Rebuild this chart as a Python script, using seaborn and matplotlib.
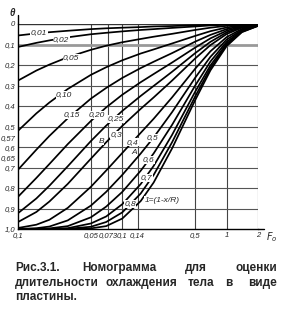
import matplotlib
matplotlib.use("Agg")
import matplotlib.pyplot as plt
from matplotlib.lines import Line2D
import pandas as pd
import seaborn as sns

# ---- data ----
fo = [0.01, 0.015, 0.02, 0.03, 0.05, 0.07, 0.1, 0.15, 0.2, 0.3, 0.5, 0.7, 1.0, 1.4, 2.0]
params = ["0,01", "0,02", "0,05", "0,10", "0,15", "0,20", "0,25", "0,3", "0,4", "0,5", "0,6", "0,7", "0,8", "1"]
theta_001 = [0.056, 0.046, 0.040, 0.033, 0.025, 0.021, 0.018, 0.015, 0.012, 0.010, 0.006, 0.004, 0.002, 0.001, 0.000]
theta_002 = [0.112, 0.092, 0.080, 0.065, 0.050, 0.043, 0.036, 0.029, 0.025, 0.019, 0.012, 0.007, 0.003, 0.001, 0.000]
theta_005 = [0.276, 0.227, 0.198, 0.162, 0.126, 0.106, 0.089, 0.073, 0.062, 0.048, 0.029, 0.018, 0.009, 0.003, 0.001]
theta_010 = [0.521, 0.436, 0.383, 0.317, 0.248, 0.211, 0.177, 0.144, 0.124, 0.095, 0.058, 0.035, 0.017, 0.006, 0.001]
theta_015 = [0.711, 0.613, 0.546, 0.460, 0.364, 0.312, 0.263, 0.215, 0.184, 0.142, 0.086, 0.053, 0.025, 0.009, 0.002]
theta_020 = [0.843, 0.751, 0.683, 0.586, 0.473, 0.407, 0.345, 0.284, 0.244, 0.188, 0.115, 0.070, 0.033, 0.012, 0.003]
theta_025 = [0.923, 0.851, 0.789, 0.694, 0.571, 0.496, 0.424, 0.351, 0.302, 0.233, 0.142, 0.087, 0.041, 0.015, 0.004]
theta_030 = [0.966, 0.917, 0.866, 0.780, 0.657, 0.577, 0.497, 0.414, 0.358, 0.276, 0.168, 0.103, 0.049, 0.018, 0.004]
theta_040 = [0.995, 0.979, 0.955, 0.897, 0.794, 0.715, 0.629, 0.531, 0.462, 0.358, 0.218, 0.133, 0.064, 0.024, 0.005]
theta_050 = [1.000, 0.996, 0.988, 0.958, 0.886, 0.819, 0.736, 0.632, 0.553, 0.430, 0.262, 0.160, 0.076, 0.029, 0.007]
theta_060 = [1.000, 1.000, 0.997, 0.986, 0.943, 0.891, 0.819, 0.716, 0.631, 0.492, 0.300, 0.183, 0.087, 0.033, 0.007]
theta_070 = [1.000, 1.000, 1.000, 0.996, 0.973, 0.939, 0.879, 0.781, 0.692, 0.541, 0.330, 0.202, 0.096, 0.036, 0.008]
theta_080 = [1.000, 1.000, 1.000, 0.999, 0.989, 0.966, 0.919, 0.827, 0.736, 0.577, 0.353, 0.215, 0.103, 0.038, 0.009]
theta_100 = [1.000, 1.000, 1.000, 1.000, 0.997, 0.986, 0.949, 0.864, 0.773, 0.607, 0.371, 0.226, 0.108, 0.040, 0.009]
all_theta = [theta_001, theta_002, theta_005, theta_010, theta_015, theta_020, theta_025,
             theta_030, theta_040, theta_050, theta_060, theta_070, theta_080, theta_100]

x_ticks = [0.01, 0.05, 0.073, 0.1, 0.14, 0.5, 1, 2]
x_ticklabels = ["0,1", "0,05", "0,073", "0,1", "0,14", "0,5", "1", "2"]
y_ticks = [0, 0.1, 0.2, 0.3, 0.4, 0.5, 0.555, 0.605, 0.65, 0.7, 0.8, 0.9, 1.0]
y_ticklabels = ["0", "0,1", "0,2", "0,3", "0,4", "0,5", "0,57", "0,6", "0,65", "0,7", "0,8", "0,9", "1,0"]
grid_x = [0.05, 0.073, 0.1, 0.14, 0.5, 1, 2]
grid_y = [0.1, 0.2, 0.3, 0.4, 0.5, 0.6, 0.7, 0.8, 0.9]

rows = []
for p, th in zip(params, all_theta):
    for f, t in zip(fo, th):
        rows.append({"Fo": f, "theta": t, "param": p})
df = pd.DataFrame(rows)

# ---- figure ----
sns.set_style("white")
plt.rcParams['font.family'] = ['Liberation Sans', 'DejaVu Sans']
W, H = 284, 326
fig = plt.figure(figsize=(W / 100, H / 100), dpi=100)
ax = fig.add_axes([18 / W, 1 - 229 / H, (258 - 18) / W, (229 - 24) / H])

for gx in grid_x:
    ax.axvline(gx, color="#444444", lw=0.8, zorder=1)
for gy in grid_y:
    ax.axhline(gy, color="#999999" if gy == 0.1 else "#555555",
               lw=2.0 if gy == 0.1 else 0.8, zorder=1)
ax.axhline(0, color="#333333", lw=1.0, zorder=1)

sns.lineplot(data=df, x="Fo", y="theta", units="param", estimator=None,
             color="black", lw=1.25, ax=ax, zorder=3, legend=False)

ax.set_xscale("log")
ax.set_xlim(0.01, 2.0)
ax.set_ylim(1.0, 0.0)
ax.set_xticks(x_ticks)
ax.set_xticklabels(x_ticklabels, fontsize=5.5, style="italic")
ax.minorticks_off()
ax.set_yticks(y_ticks)
ax.set_yticklabels(y_ticklabels, fontsize=5.5, style="italic")
ax.tick_params(length=0, pad=2)
ax.set_xlabel("")
ax.set_ylabel("")
for s in ["top", "right"]:
    ax.spines[s].set_visible(False)
for s in ["left", "bottom"]:
    ax.spines[s].set_color("black")
    ax.spines[s].set_linewidth(1.0)

# axis extensions (left axis up to theta, bottom axis past 2)
fig.add_artist(Line2D([18 / W, 18 / W], [1 - 24 / H, 1 - 15 / H], color="black", lw=1.0))
fig.add_artist(Line2D([258 / W, 264 / W], [1 - 229 / H, 1 - 229 / H], color="black", lw=1.0))

# inline curve labels
lab_pos = [
    ("0,01", 0.0159, 0.044), ("0,02", 0.0259, 0.078), ("0,05", 0.0323, 0.166),
    ("0,10", 0.0277, 0.346), ("0,15", 0.033, 0.444), ("0,20", 0.0575, 0.444),
    ("0,25", 0.0875, 0.463), ("0,3", 0.0875, 0.541), ("B", 0.0628, 0.571),
    ("0,4", 0.125, 0.576), ("A", 0.130, 0.629), ("0,5", 0.194, 0.556),
    ("0,6", 0.178, 0.663), ("0,7", 0.170, 0.751), ("0,8", 0.119, 0.878),
]
for t, x, y in lab_pos:
    ax.text(x, y, t, fontsize=6, style="italic", ha="center", va="center", zorder=5,
            bbox=dict(boxstyle="square,pad=0.05", fc="white", ec="none"))
ax.text(0.163, 0.86, "1=(1-x/R)", fontsize=6, style="italic", ha="left", va="center",
        zorder=5, bbox=dict(boxstyle="square,pad=0.05", fc="white", ec="none"))

fig.text(12 / W, 1 - 13 / H, "θ", fontsize=7, style="italic", fontweight="bold",
         ha="center", va="center")
fig.text(272 / W, 1 - 237 / H, r"$F_o$", fontsize=7, ha="center", va="center")

# caption (justified by word positions)
cap = [
    (268, [("Рис.3.1.", 15, "left"), ("Номограмма", 82, "left"), ("для", 185, "left"), ("оценки", 277, "right")]),
    (283, [("длительности", 15, "left"), ("охлаждения", 106, "left"), ("тела", 188, "left"),
           ("в", 225, "left"), ("виде", 277, "right")]),
    (297, [("пластины.", 15, "left")]),
]
for yy, words in cap:
    for w, xx, ha in words:
        fig.text(xx / W, 1 - yy / H, w, fontsize=8.5, fontweight="bold", ha=ha, va="center")

fig.savefig("out.png", dpi=100)
